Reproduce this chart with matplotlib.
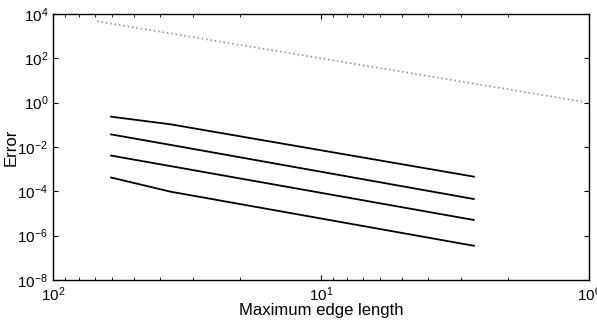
import matplotlib
matplotlib.use("Agg")
import matplotlib.pyplot as plt
from matplotlib.ticker import LogLocator, NullLocator, LogFormatterSciNotation

plt.rcParams['font.family'] = ['Liberation Sans', 'DejaVu Sans']
plt.rcParams['mathtext.default'] = 'regular'

# Reference slope-2 line (dotted)
ref_h = [68.5, 10.0, 1.05]
ref_err = [4700.0, 100.0, 1.1]

# Error curves
h = [60.7, 36.5, 2.69]
err1 = [0.233, 0.106, 4.6e-4]
err2 = [0.037, 0.0125, 4.5e-5]
err3 = [4.1e-3, 1.38e-3, 5.1e-6]
err4 = [4.2e-4, 9.7e-5, 3.5e-7]

fig = plt.figure(figsize=(5.97, 3.24), dpi=100)
ax = fig.add_axes([53/597, 44/324, (589-53)/597, (280-14)/324])

ax.plot(ref_h, ref_err, linestyle=':', color='#999999', lw=1.2)
for e in (err1, err2, err3, err4):
    ax.plot(h, e, color='black', lw=1.3)

ax.set_xscale('log')
ax.set_yscale('log')
ax.set_xlim(100, 1)
ax.set_ylim(1e-8, 1e4)

ax.xaxis.set_major_locator(LogLocator(base=10, numticks=10))
ax.xaxis.set_minor_locator(LogLocator(base=10, subs=range(2, 10), numticks=10))
ax.yaxis.set_major_locator(LogLocator(base=100, numticks=10))
ax.yaxis.set_minor_locator(NullLocator())
ax.yaxis.set_major_formatter(LogFormatterSciNotation(base=10))

ax.tick_params(which='both', direction='in', top=True, right=True, labelsize=11)
ax.tick_params(axis='x', which='major', pad=4)
ax.tick_params(which='major', length=3.6, width=0.8)
ax.tick_params(which='minor', length=2, width=0.6)
for s in ax.spines.values():
    s.set_linewidth(1.0)

ax.set_xlabel('Maximum edge length', fontsize=12, labelpad=-1)
ax.set_ylabel('Error', fontsize=12, labelpad=-1)

fig.savefig('out.png', dpi=100)
